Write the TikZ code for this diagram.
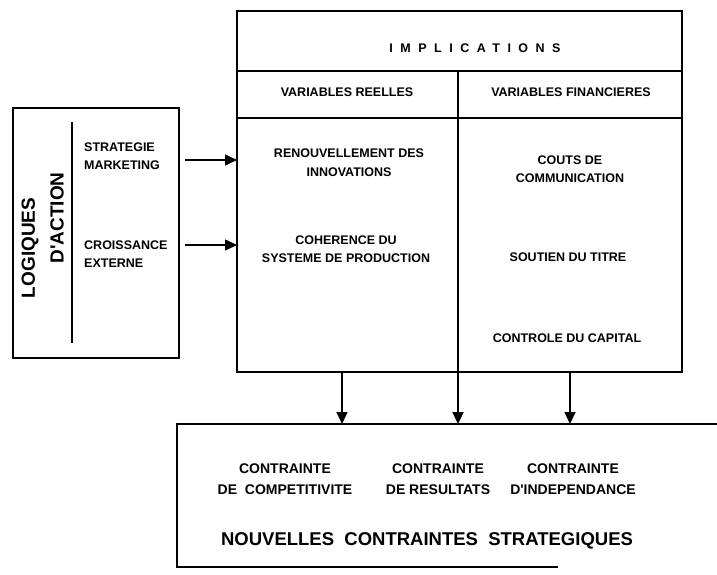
\documentclass[tikz,border=0pt]{standalone}
\usepackage{fontspec}
\setsansfont{Liberation Sans}
\usetikzlibrary{arrows.meta,positioning}
\tikzset{
  boxarr/.style={-{Triangle[length=12pt,width=11pt]}, line width=1.5pt},
  boxframe/.style={draw, line width=2.4pt, inner sep=0pt, outer sep=0pt},
  boxtxt/.style={align=center, inner sep=1pt, font=\sffamily\bfseries\fontsize{12.5}{18.5}\selectfont},
}

\begin{document}
\begin{tikzpicture}[
  x=1pt, y=-1pt,
  ctxt/.style={boxtxt, font=\sffamily\bfseries\fontsize{14}{20.5}\selectfont},
  rot/.style={rotate=90, inner sep=0pt, font=\sffamily\bfseries\fontsize{19}{22}\selectfont},
]
  \useasboundingbox (0,0) rectangle (717,574);

  % frames
  \node[boxframe, minimum width=166pt, minimum height=250pt] (act) at (96,233) {};
  \node[boxframe, minimum width=445pt, minimum height=361pt] (impl) at (459.5,191.5) {};
  \coordinate (r1) at (237,71);
  \coordinate (r2) at (237,118);
  \coordinate (dv) at (458,71);
  \draw[line width=2.2pt] (r1) -- (r1 -| impl.east);
  \draw[line width=2.2pt] (r2) -- (r2 -| impl.east);
  \draw[line width=2.2pt] (dv) -- (dv |- impl.south);
  \coordinate (ntl) at (177,424);
  \draw[line width=2.4pt] (717,424) -- (ntl) -- (177,567) -- (558,567);

  % logiques d'action
  \node[rot] (lg) at (30,248) {LOGIQUES};
  \node[rot] (da) at (57,218) {D\textquotesingle ACTION};
  \draw[line width=1.8pt] (72,122) -- (72,343);
  \node[boxtxt, align=left, anchor=west] (strat) at (83,156) {STRATEGIE\\MARKETING};
  \node[boxtxt, align=left, anchor=west] (crois) at (83,254) {CROISSANCE\\EXTERNE};

  % implications
  \node[boxtxt] (titre) at (475,48) {\addfontfeatures{LetterSpace=60}IMPLICATIONS};
  \node[boxtxt] (vr) at (347,92) {VARIABLES REELLES};
  \node[boxtxt] (vf) at (571,92) {VARIABLES FINANCIERES};
  \node[boxtxt] (ren) at (349,162.5) {RENOUVELLEMENT DES\\INNOVATIONS};
  \node[boxtxt] (coh) at (346,249) {COHERENCE DU\\SYSTEME DE PRODUCTION};
  \node[boxtxt] (cou) at (570,169) {COUTS DE\\COMMUNICATION};
  \node[boxtxt] (sou) at (568,257.5) {SOUTIEN DU TITRE};
  \node[boxtxt] (ctl) at (567,338.5) {CONTROLE DU CAPITAL};

  % contraintes
  \node[ctxt] (c1) at (285,479) {CONTRAINTE\\DE\ \ COMPETITIVITE};
  \node[ctxt] (c2) at (438,479) {CONTRAINTE\\DE RESULTATS};
  \node[ctxt] (c3) at (573,479) {CONTRAINTE\\D\textquotesingle INDEPENDANCE};
  \node[boxtxt, font=\sffamily\bfseries\fontsize{18.5}{22}\selectfont] (ncs) at (427,541)
    {NOUVELLES\ \ CONTRAINTES\ \ STRATEGIQUES};

  % fleches
  \coordinate (g1) at (185,160);
  \coordinate (g2) at (185,245);
  \draw[boxarr] (g1) -- (g1 -| impl.west);
  \draw[boxarr] (g2) -- (g2 -| impl.west);
  \coordinate (a1) at (342,424);
  \coordinate (a2) at (458,424);
  \coordinate (a3) at (570,424);
  \draw[boxarr] (a1 |- impl.south) -- (a1);
  \draw[boxarr, line width=2.2pt] (a2 |- impl.south) -- (a2);
  \draw[boxarr] (a3 |- impl.south) -- (a3);
\end{tikzpicture}
\end{document}
